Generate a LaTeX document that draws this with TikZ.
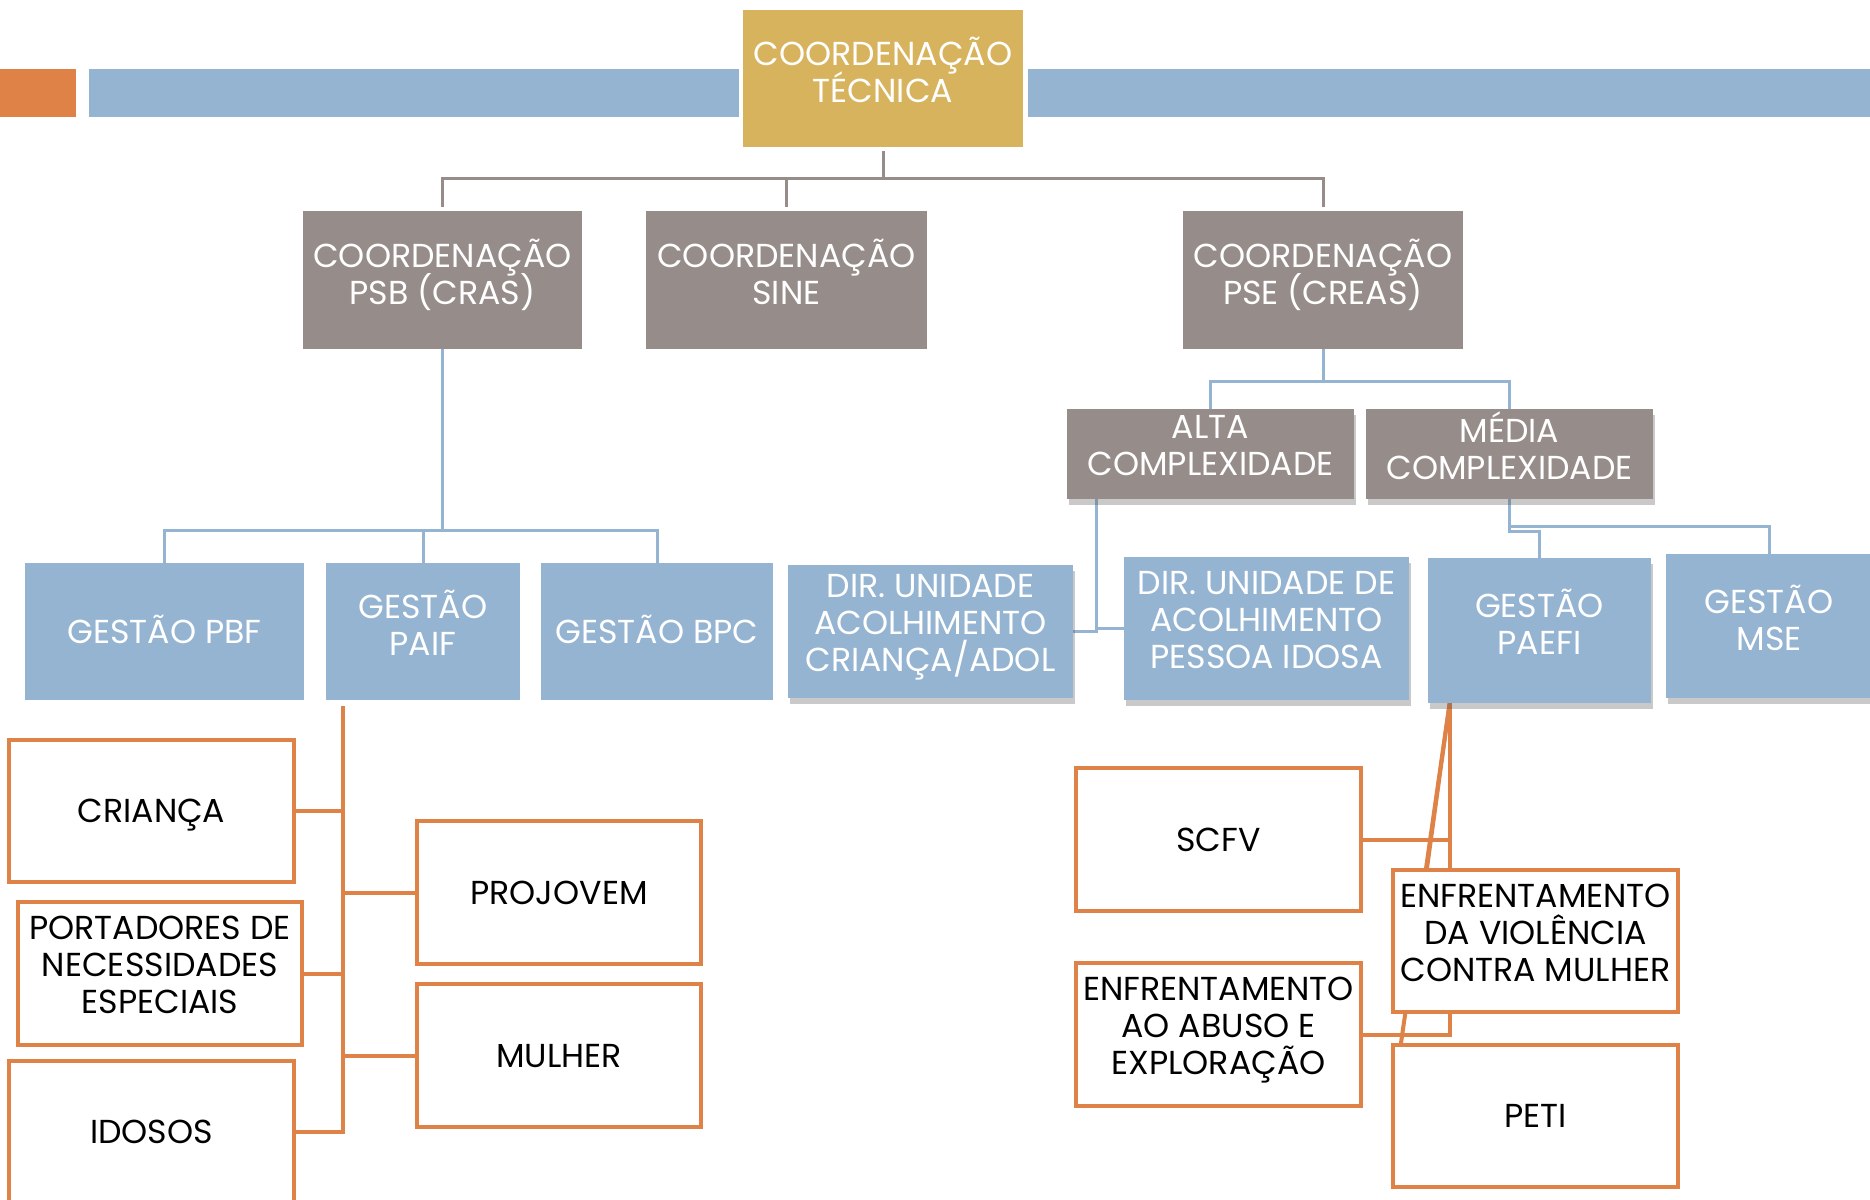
\documentclass[tikz,border=0pt]{standalone}
\usepackage{fontspec}
\setmainfont{Poppins}
\usetikzlibrary{calc}
\usetikzlibrary{shadows}
\usetikzlibrary{backgrounds}

\definecolor{gold}{HTML}{D8B35D}
\definecolor{taupe}{HTML}{968C8A}
\definecolor{steel}{HTML}{95B4D2}
\definecolor{rust}{HTML}{DF8248}
\newcommand\cellfont{\fontsize{16.6}{18.5}\selectfont\lineskiplimit-100pt\relax}

\begin{document}
\begin{tikzpicture}[x=0.5pt,y=-0.5pt,
        wh/.style 2 args={minimum width=#1*0.5pt,minimum height=#2*0.5pt},
        cell/.style={inner sep=0pt,align=center,font=\cellfont,
            execute at begin node=\leavevmode\rule{0pt}{1.2em},execute at end node=\rule[-.5em]{0pt}{.5em}},
        headbox/.style={cell,fill=gold,text=white},
        greybox/.style={cell,fill=taupe,text=white},
        bluebox/.style={cell,fill=steel,text=white},
        lifted/.style={drop shadow={shadow xshift=1pt,shadow yshift=-3pt,opacity=.3,fill=black!70}},
        orbox/.style={cell,draw=rust,line width=2pt,fill=white,text=black},
        gline/.style={draw=taupe,line width=1.5pt,shorten <=2pt,shorten >=2pt},
        bline/.style={draw=steel,line width=1.5pt},
        oline/.style={draw=rust,line width=2pt}]
        \useasboundingbox(0,0)rectangle(1870,1200);
        % band
        \fill[rust](0,69)rectangle(76,117);
        \fill[steel](89,69)rectangle(739,117);
        \fill[steel](1028,69)rectangle(1870,117);
        % level 0 and 1
        \node[headbox,wh={280}{137}](head)at(883,78.5){COORDENAÇÃO\\TÉCNICA};
        \node[greybox,wh={279}{138}](psb)at(442.5,280){COORDENAÇÃO\\PSB (CRAS)};
        \node[greybox,wh={281}{138}](sine)at(786.5,280){COORDENAÇÃO\\SINE};
        \node[greybox,wh={280}{138}](pse)at(1323,280){COORDENAÇÃO\\PSE (CREAS)};
        \node[greybox,lifted,wh={287}{90}](alta)at(1210.5,454){ALTA\\COMPLEXIDADE};
        \node[greybox,lifted,wh={287}{90}](media)at(1509.5,454){MÉDIA\\COMPLEXIDADE};
        % blue row
        \node[bluebox,wh={279}{137}](pbf)at(164.5,631.5){GESTÃO PBF};
        \node[bluebox,wh={194}{137}](paif)at(423,631.5){GESTÃO\\PAIF};
        \node[bluebox,wh={232}{137}](bpc)at(657,631.5){GESTÃO BPC};
        \node[bluebox,lifted,wh={285}{133}](adol)at(930.5,631.5){DIR. UNIDADE\\ACOLHIMENTO\\CRIANÇA/ADOL};
        \node[bluebox,lifted,wh={285}{143}](idosa)at(1266.5,628.5){DIR. UNIDADE DE\\ACOLHIMENTO\\PESSOA IDOSA};
        \node[bluebox,lifted,wh={223}{145}](paefi)at(1539.5,630.5){GESTÃO\\PAEFI};
        \node[bluebox,lifted,wh={206}{144}](mse)at(1769,626){GESTÃO\\MSE};
        % orange boxes, left
        \node[orbox,wh={285}{142}](crianca)at(151.5,811){CRIANÇA};
        \node[orbox,wh={284}{143}](portadores)at(160,973.5){PORTADORES DE\\NECESSIDADES\\ESPECIAIS};
        \node[orbox,wh={285}{142}](idosos)at(151.5,1132){IDOSOS};
        \node[orbox,wh={284}{143}](projovem)at(559,892.5){PROJOVEM};
        \node[orbox,wh={284}{143}](mulher)at(559,1055.5){MULHER};
        % orange boxes, right
        \node[orbox,wh={285}{143}](scfv)at(1218.5,839.5){SCFV};
        \node[orbox,wh={285}{142}](viol)at(1535.5,941){ENFRENTAMENTO\\DA VIOLÊNCIA\\CONTRA MULHER};
        \node[orbox,wh={285}{143}](abuso)at(1218.5,1034.5){ENFRENTAMENTO\\AO ABUSO E\\EXPLORAÇÃO};
        \node[orbox,wh={285}{142}](peti)at(1535.5,1116){PETI};
        \coordinate(altafoot)at($(alta.south west)+(30,0)$);
        \coordinate(paiffoot)at($(paif.south west)+(17,0)$);
        \coordinate(paefifoot)at($(paefi.south west)+(22,0)$);
        \coordinate(violtop)at($(viol.north west)+(36,0)$);
        \coordinate(petitop)at($(peti.north west)+(10,0)$);
        \begin{pgfonlayer}{background}
        \draw[gline](head.south)--++(0,31)-|(psb.north);
        \draw[gline](head.south)--++(0,31)-|(sine.north);
        \draw[gline](head.south)--++(0,31)-|(pse.north);
        \draw[bline](psb.south)--++(0,181)-|(pbf.north);
        \draw[bline](psb.south)--++(0,181)-|(paif.north);
        \draw[bline](psb.south)--++(0,181)-|(bpc.north);
        \draw[bline](pse.south)--++(0,32)-|(alta.north);
        \draw[bline](pse.south)--++(0,32)-|(media.north);
        \draw[bline](altafoot)|-(adol.east);
        \draw[bline](altafoot)|-(idosa.west);
        \draw[bline](media.south)--++(0,27)-|(mse.north);
        \draw[bline](media.south)--++(0,32)-|(paefi.north);
        \draw[oline,shorten <=3pt](paiffoot)|-(crianca.east);
        \draw[oline,shorten <=3pt](paiffoot)|-(portadores.east);
        \draw[oline,shorten <=3pt](paiffoot)|-(idosos.east);
        \draw[oline,shorten <=3pt](paiffoot)|-(projovem.west);
        \draw[oline,shorten <=3pt](paiffoot)|-(mulher.west);
        \draw[oline](paefifoot)|-(scfv.east);
        \draw[oline](paefifoot)|-(abuso.east);
        \draw[oline](paefifoot)--(violtop);
        \draw[oline](paefifoot)--(petitop);
        \end{pgfonlayer}
\end{tikzpicture}
\end{document}
